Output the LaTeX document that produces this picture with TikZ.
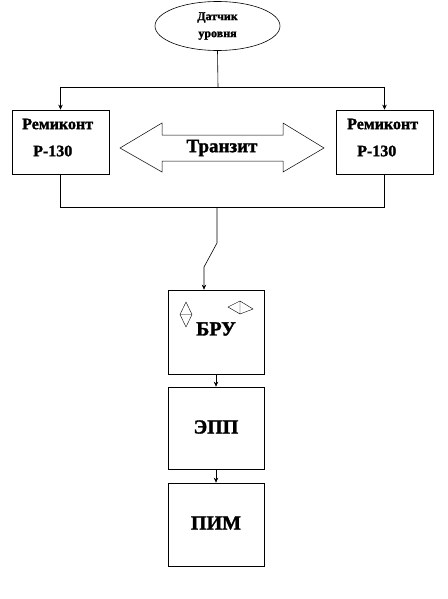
\documentclass[tikz,border=0pt]{standalone}
\usepackage{fontspec}
\setmainfont[BoldFeatures={FakeBold=1.5}]{Liberation Serif}
\usetikzlibrary{shapes.geometric,arrows.meta}
\begin{document}
\begin{tikzpicture}[x=1pt,y=-1pt,
  ln/.style={line width=0.6pt,black},
  arr/.style={ln,-{Stealth[length=5pt,width=4.5pt]}},
  box/.style={draw,line width=0.7pt,minimum width=97pt,inner sep=0pt},
  lbl/.style={inner sep=0pt,font=\bfseries\fontsize{16}{16}\selectfont},
  big/.style={inner sep=0pt,font=\bfseries\fontsize{20}{20}\selectfont}]
\useasboundingbox (0,0) rectangle (447,599);
% sensor
\node[draw,ellipse,line width=0.6pt,minimum width=125pt,minimum height=49pt,inner sep=0pt,align=center,
  font=\bfseries\fontsize{12}{17}\selectfont] (S) at (217.5,26) {Датчик\\уровня};
% Remikont boxes
\node[box,minimum height=64pt] (L) at (60.5,142) {};
\node[box,minimum height=64pt] (R) at (384.5,142) {};
\node[lbl,anchor=west] (L1) at (22,124) {Ремиконт};
\node[lbl,anchor=west] (L2) at (33,151) {Р-130};
\node[lbl,anchor=west] (R1) at (347,124) {Ремиконт};
\node[lbl,anchor=west] (R2) at (357,151) {Р-130};
% transit arrow
\draw[line width=0.5pt] (120,148) -- (162,123) -- (162,135) -- (283,135) -- (283,123) -- (324,148)
  -- (283,172) -- (283,161) -- (162,161) -- (162,172) -- cycle;
\node[inner sep=0pt,font=\bfseries\fontsize{19}{19}\selectfont] (T) at (222,148) {Транзит};
% lower boxes
\node[box,minimum width=96pt,minimum height=84pt] (B) at (216,332) {};
\node[big] (Bt) at (216,329) {БРУ};
\node[box,minimum width=96pt,minimum height=82pt] (E) at (216,428) {};
\node[big] (Et) at (216,427) {ЭПП};
\node[box,minimum width=96pt,minimum height=83pt] (P) at (216,524.5) {};
\node[big] (Pt) at (216,523) {ПИМ};
% diamonds in BRU
\draw[line width=0.4pt] (186,302) -- (192,314.5) -- (186,327) -- (180,314.5) -- cycle (180,314.5) -- (192,314.5);
\draw[line width=0.4pt] (228,307) -- (240,301) -- (253,309) -- (240,314) -- cycle (240,301) -- (240,314);
% connectors
\coordinate (tj) at (218,87);
\coordinate (tl) at (60.5,87);
\coordinate (tr) at (384.5,87);
\coordinate (bl) at (60.5,207);
\coordinate (br) at (384.5,207);
\coordinate (bj) at (217,207);
\coordinate (k1) at (217,243);
\coordinate (k2) at (204,267);
\draw[ln] (S.south) -- (tj);
\draw[ln] (tl) -- (tr);
\draw[arr] (tl) -- (L.north);
\draw[arr] (tr) -- (R.north);
\draw[ln] (L.south) -- (bl) -- (br) -- (R.south);
\draw[arr] (bj) -- (k1) -- (k2) -- (k2 |- B.north);
\draw[arr] (B.south) -- (E.north);
\draw[arr] (E.south) -- (P.north);
\end{tikzpicture}
\end{document}
